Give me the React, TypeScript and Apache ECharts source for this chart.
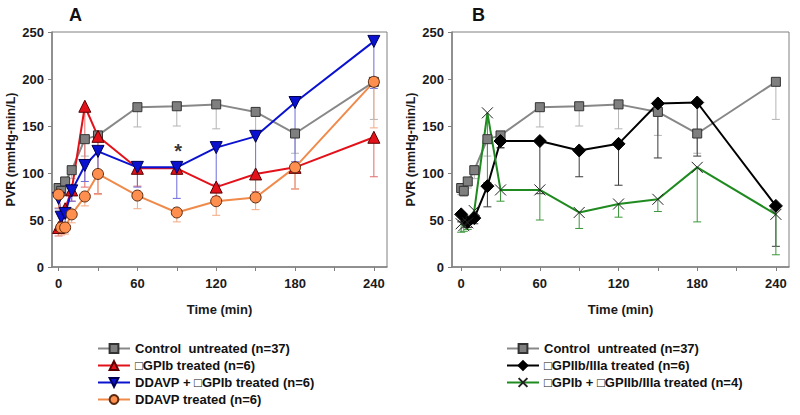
import React, { useEffect, useRef } from "react";
import * as echarts from "echarts";

// ---- data ----
const times = [0, 2, 5, 10, 20, 30, 60, 90, 120, 150, 180, 240];
const xTickValues = [0, 30, 60, 90, 120, 150, 180, 210, 240];
const xLabelValues = [0, 60, 120, 180, 240];

const controlName = "Control  untreated (n=37)";
const controlMean = [84, 81, 91, 103, 136, 140, 170, 171, 173, 165, 142, 197];
const controlLow = [77, 75, 84, 94, 118, 126, 149, 150, 147, 140, 121, 157];

const gpibName = "\u25A1GPIb treated (n=6)";
const gpibMean = [42, 45, 62, 82, 171, 139, 105, 105, 85, 99, 106, 138];
const gpibLow = [33, 37, 52, 70, 85, 78, 86, 99, 75, 80, 83, 96];

const ddavpGpibName = "DDAVP + \u25A1GPIb treated (n=6)";
const ddavpGpibMean = [73, 53, 57, 81, 108, 123, 106, 106, 127, 139, 175, 240];
const ddavpGpibLow = [62, 40, 47, 70, 91, 98, 85, 73, 88, 100, 112, 190];

const ddavpName = "DDAVP treated (n=6)";
const ddavpMean = [77, 42, 42, 56, 75, 99, 76, 58, 70, 74, 106, 197];
const ddavpLow = [63, 34, 35, 47, 65, 77, 62, 48, 55, 61, 83, 148];

const gpiibName = "\u25A1GPIIb/IIIa treated (n=6)";
const gpiibMean = [56, null, 48, 52, 86, 134, 134, 124, 131, 174, 175, 65];
const gpiibLow = [48, null, 42, 46, 64, 127, 78, 96, 87, 116, 118, 22];

const comboName = "\u25A1GPIb + \u25A1GPIIb/IIIa treated (n=4)";
const comboMean = [46, 44, 47, 60, 164, 82, 82, 58, 67, 72, 106, 56];
const comboLow = [37, 38, 40, 50, 90, 70, 50, 41, 53, 59, 48, 13];

const starPoint = [91, 123];

const FONT = "'Liberation Sans', Arial, sans-serif";

function pairs(mean: (number | null)[]) {
  return times.map((t, i) => [t, mean[i]]);
}
function triples(mean: (number | null)[], low: (number | null)[]) {
  return times
    .map((t, i) => [t, mean[i], low[i]])
    .filter((r) => r[1] != null && r[2] != null);
}

function errRender(color: string) {
  return (params: any, api: any) => {
    const x = api.value(0);
    const y = api.value(1);
    const lo = api.value(2);
    const p1 = api.coord([x, y]);
    const p2 = api.coord([x, lo]);
    return {
      type: "group",
      children: [
        {
          type: "line",
          shape: { x1: p1[0], y1: p1[1], x2: p2[0], y2: p2[1] },
          style: { stroke: color, lineWidth: 1 },
        },
        {
          type: "line",
          shape: { x1: p2[0] - 4, y1: p2[1], x2: p2[0] + 4, y2: p2[1] },
          style: { stroke: color, lineWidth: 1 },
        },
      ],
    };
  };
}

function errSeries(idx: number, mean: any[], low: any[], color: string) {
  return {
    type: "custom",
    xAxisIndex: idx,
    yAxisIndex: idx,
    z: 1,
    silent: true,
    data: triples(mean, low),
    encode: { x: 0, y: [1, 2] },
    renderItem: errRender(color),
  };
}

function lineSeries(
  idx: number,
  name: string,
  mean: any[],
  lineColor: string,
  symbol: string,
  symbolSize: number,
  fill: string,
  border: string,
  extra: any = {}
) {
  return {
    type: "line",
    name,
    xAxisIndex: idx,
    yAxisIndex: idx,
    z: 3,
    data: pairs(mean),
    connectNulls: true,
    symbol,
    symbolSize,
    showAllSymbol: true,
    lineStyle: { color: lineColor, width: 2 },
    itemStyle: { color: fill, borderColor: border, borderWidth: 1 },
    ...extra,
  };
}

function xAxis(idx: number, min: number) {
  return {
    type: "value",
    gridIndex: idx,
    min,
    max: 250,
    name: "Time (min)",
    nameLocation: "middle",
    nameGap: 36,
    nameTextStyle: { fontFamily: FONT, fontWeight: "bold", fontSize: 13, color: "#1a1a1a" },
    axisLine: { show: true, onZero: false, lineStyle: { color: "#808080", width: 1.5 } },
    axisTick: {
      show: true,
      customValues: xTickValues,
      length: 4,
      lineStyle: { color: "#808080" },
    },
    axisLabel: {
      customValues: xLabelValues,
      fontFamily: FONT,
      fontWeight: "bold",
      fontSize: 13,
      color: "#1a1a1a",
      margin: 10,
    },
    splitLine: { show: false },
  };
}

function yAxis(idx: number) {
  return {
    type: "value",
    gridIndex: idx,
    position: "left",
    min: 0,
    max: 250,
    interval: 50,
    name: "PVR (mmHg-min/L)",
    nameLocation: "middle",
    nameGap: 35,
    nameTextStyle: { fontFamily: FONT, fontWeight: "bold", fontSize: 12.5, color: "#1a1a1a" },
    axisLine: { show: true, onZero: false, lineStyle: { color: "#808080", width: 1.5 } },
    axisTick: { show: true, length: 4, lineStyle: { color: "#808080" } },
    axisLabel: {
      fontFamily: FONT,
      fontWeight: "bold",
      fontSize: 13,
      color: "#1a1a1a",
      margin: 8,
    },
    splitLine: { show: false },
  };
}

const legendText = { fontFamily: FONT, fontWeight: "bold", fontSize: 13, color: "#111" };
const xMark = "path://M0,0L10,10M0,10L10,0";

export default function App() {
  const ref = useRef<HTMLDivElement>(null);
  useEffect(() => {
    if (!ref.current) return;
    const chart = echarts.init(ref.current, undefined, { renderer: "svg" });
    const option: any = {
      animation: false,
      backgroundColor: "#ffffff",
      title: [
        {
          text: "A",
          left: 64,
          top: 1,
          textStyle: { fontFamily: FONT, fontWeight: "bold", fontSize: 18, color: "#111" },
        },
        {
          text: "B",
          left: 467,
          top: 1,
          textStyle: { fontFamily: FONT, fontWeight: "bold", fontSize: 18, color: "#111" },
        },
      ],
      grid: [
        { left: 52, right: 413, top: 32, bottom: 148, show: true, borderColor: "#808080", borderWidth: 1, backgroundColor: "transparent" },
        { left: 452, right: 11, top: 32, bottom: 148, show: true, borderColor: "#808080", borderWidth: 1, backgroundColor: "transparent" },
      ],
      xAxis: [xAxis(0, -5), xAxis(1, -7)],
      yAxis: [yAxis(0), yAxis(1)],
      legend: [
        {
          orient: "vertical",
          left: 97,
          top: 342,
          height: 120,
          padding: 0,
          itemWidth: 32,
          itemHeight: 11,
          itemGap: 4,
          textStyle: legendText,
          selectedMode: false,
          data: [controlName, gpibName, ddavpGpibName, ddavpName],
        },
        {
          orient: "vertical",
          left: 506,
          top: 342,
          height: 120,
          padding: 0,
          itemWidth: 32,
          itemHeight: 11,
          itemGap: 4,
          textStyle: legendText,
          selectedMode: false,
          data: [controlName, gpiibName, comboName],
        },
      ],
      series: [
        // Panel A error bars
        errSeries(0, controlMean, controlLow, "#b4b4b4"),
        errSeries(0, gpibMean, gpibLow, "#e06a6a"),
        errSeries(0, ddavpGpibMean, ddavpGpibLow, "#6c6cdc"),
        errSeries(0, ddavpMean, ddavpLow, "#f3a883"),
        // Panel A lines
        lineSeries(0, controlName, controlMean, "#888888", "rect", 9, "#7f7f7f", "#333333"),
        lineSeries(0, gpibName, gpibMean, "#e3121a", "triangle", 12, "#e3121a", "#5a0000"),
        lineSeries(0, ddavpGpibName, ddavpGpibMean, "#0a12d0", "triangle", 12, "#0a12d0", "#000050", {
          symbolRotate: 180,
        }),
        lineSeries(0, ddavpName, ddavpMean, "#f08a4b", "circle", 11, "#ff8f4f", "#5a2a10"),
        {
          type: "scatter",
          xAxisIndex: 0,
          yAxisIndex: 0,
          z: 5,
          silent: true,
          data: [starPoint],
          symbolSize: 1,
          itemStyle: { color: "transparent" },
          label: {
            show: true,
            position: "inside",
            formatter: "*",
            fontFamily: FONT,
            fontWeight: "bold",
            fontSize: 20,
            color: "#000",
          },
        },
        // Panel B error bars
        errSeries(1, controlMean, controlLow, "#b4b4b4"),
        errSeries(1, gpiibMean, gpiibLow, "#3a3a3a"),
        errSeries(1, comboMean, comboLow, "#3a963a"),
        // Panel B lines
        lineSeries(1, controlName, controlMean, "#888888", "rect", 9, "#7f7f7f", "#333333"),
        lineSeries(1, gpiibName, gpiibMean, "#000000", "diamond", 13, "#000000", "#000000"),
        lineSeries(1, comboName, comboMean, "#1f8a1f", xMark, 11, "#333333", "#222222", {
          itemStyle: { color: "#333333", borderColor: "#222222", borderWidth: 1 },
        }),
      ],
    };
    chart.setOption(option);
    return () => chart.dispose();
  }, []);
  return (
    <div
      ref={ref}
      style={{ position: "fixed", left: 0, top: 0, width: 800, height: 415, background: "#fff" }}
    />
  );
}
